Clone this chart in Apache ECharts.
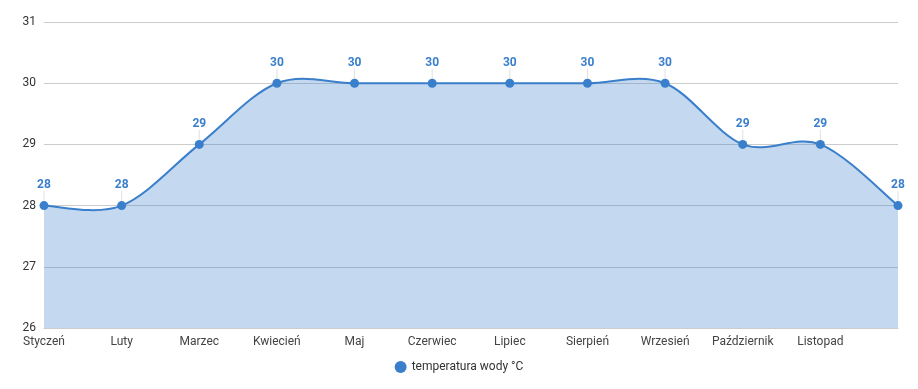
<!DOCTYPE html>
<html>
<head>
<meta charset="utf-8">
<script src="https://cdn.jsdelivr.net/npm/echarts@6/dist/echarts.min.js"></script>
<style>html,body{margin:0;padding:0;background:#fff}#c{width:918px;height:389px}</style>
</head>
<body>
<div id="c"></div>
<script>
const categories = ['Styczeń','Luty','Marzec','Kwiecień','Maj','Czerwiec','Lipiec','Sierpień','Wrzesień','Październik','Listopad','Grudzień'];
const temperature = [28,28,29,30,30,30,30,30,30,29,29,28];
const seriesName = 'temperatura wody °C';
const yMin = 26, yMax = 31;

const COLOR = '#3a7fcb';
const TENSION = 1 / 6;

function renderCurve(params, api) {
  if (params.dataIndex !== 0) return;
  const pts = temperature.map((v, i) => api.coord([i, v]));
  const base = api.coord([0, yMin])[1];
  const n = pts.length;
  let d = 'M' + pts[0][0] + ' ' + pts[0][1];
  for (let i = 0; i < n - 1; i++) {
    const p0 = pts[Math.max(i - 1, 0)], p1 = pts[i], p2 = pts[i + 1], p3 = pts[Math.min(i + 2, n - 1)];
    const c1x = p1[0] + TENSION * (p2[0] - p0[0]);
    const c1y = p1[1] + TENSION * (p2[1] - p0[1]);
    const c2x = p2[0] - TENSION * (p3[0] - p1[0]);
    const c2y = p2[1] - TENSION * (p3[1] - p1[1]);
    d += ' C' + c1x + ' ' + c1y + ' ' + c2x + ' ' + c2y + ' ' + p2[0] + ' ' + p2[1];
  }
  const area = d + ' L' + pts[n - 1][0] + ' ' + base + ' L' + pts[0][0] + ' ' + base + ' Z';
  return {
    type: 'group',
    children: [
      {type: 'path', shape: {pathData: area}, style: {fill: COLOR, opacity: 0.3}, silent: true},
      {type: 'path', shape: {pathData: d}, style: {fill: null, stroke: COLOR, lineWidth: 2}, silent: true}
    ]
  };
}

const chart = echarts.init(document.getElementById('c'));
chart.setOption({
  animation: false,
  textStyle: {fontFamily: 'Roboto'},
  grid: {left: 44, right: 20, top: 22, bottom: 61},
  legend: {
    bottom: 11, left: 'center', icon: 'circle', itemWidth: 12, itemHeight: 12,
    textStyle: {color: '#333', fontSize: 12, fontFamily: 'Roboto'},
    data: [seriesName]
  },
  xAxis: {
    type: 'category', data: categories, boundaryGap: false,
    axisLine: {lineStyle: {color: '#ccc'}},
    axisTick: {show: false},
    axisLabel: {color: '#444', fontSize: 12, margin: 8, interval: (i) => i < 11}
  },
  yAxis: {
    type: 'value', min: yMin, max: yMax, interval: 1,
    axisLine: {show: false}, axisTick: {show: false},
    axisLabel: {color: '#333', fontSize: 12, margin: 8},
    splitLine: {lineStyle: {color: '#ccc'}}
  },
  series: [
    {
      type: 'custom', coordinateSystem: 'cartesian2d', renderItem: renderCurve,
      data: [[0, temperature[0]]], z: 1, silent: true, clip: true
    },
    {
      name: seriesName, type: 'line', data: temperature, z: 3,
      symbol: 'circle', symbolSize: 9,
      itemStyle: {color: COLOR},
      lineStyle: {color: COLOR, width: 0, opacity: 0},
      label: {show: true, position: 'top', distance: 4, color: COLOR, fontWeight: 'bold', fontSize: 12},
      labelLayout: {dy: -6},
      labelLine: {show: true, lineStyle: {color: '#e0e0e0', width: 1}}
    }
  ]
});
</script>
</body>
</html>
